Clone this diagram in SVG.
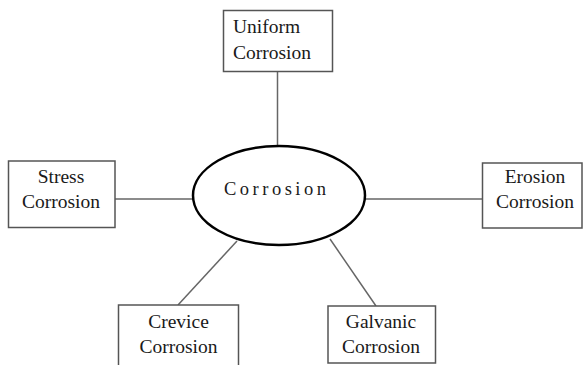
<svg xmlns="http://www.w3.org/2000/svg" width="585" height="365" viewBox="0 0 585 365">
<style>
.box{fill:#fff;stroke:#555;stroke-width:1.5}
.t{font-family:"Liberation Serif","Times New Roman",serif;font-size:19.5px;fill:#1a1a1a}
.c{text-anchor:middle}
.ln{stroke:#666;stroke-width:1.5;fill:none}
</style>
<rect width="585" height="365" fill="#fff"/>
<g id="connectors">
<line class="ln" x1="277.5" y1="71" x2="277.5" y2="146"/>
<line class="ln" x1="115" y1="199" x2="193" y2="199"/>
<line class="ln" x1="365" y1="199" x2="482" y2="199"/>
<line class="ln" x1="237" y1="241" x2="178" y2="305"/>
<line class="ln" x1="330" y1="239" x2="376" y2="306"/>
</g>
<g id="center">
<ellipse cx="279" cy="195.5" rx="86" ry="49.5" fill="#fff" stroke="#000" stroke-width="2.5"/>
<text class="t" x="224" y="195" style="font-size:18.5px;letter-spacing:3.5px">Corrosion</text>
</g>
<g id="uniform">
<rect class="box" x="223.5" y="10.5" width="109" height="61"/>
<text class="t" x="233" y="33">Uniform</text>
<text class="t" x="233" y="59">Corrosion</text>
</g>
<g id="stress">
<rect class="box" x="8.5" y="161" width="106.5" height="66.5"/>
<text class="t c" x="61" y="183">Stress</text>
<text class="t c" x="61" y="208">Corrosion</text>
</g>
<g id="erosion">
<rect class="box" x="482.5" y="163" width="99.5" height="65"/>
<text class="t c" x="535" y="183">Erosion</text>
<text class="t c" x="535" y="208">Corrosion</text>
</g>
<g id="crevice">
<rect class="box" x="118.5" y="305" width="120" height="70"/>
<text class="t c" x="178.5" y="328">Crevice</text>
<text class="t c" x="178.5" y="353">Corrosion</text>
</g>
<g id="galvanic">
<rect class="box" x="328" y="306" width="107.5" height="57"/>
<text class="t c" x="381" y="328">Galvanic</text>
<text class="t c" x="381" y="353">Corrosion</text>
</g>
</svg>
